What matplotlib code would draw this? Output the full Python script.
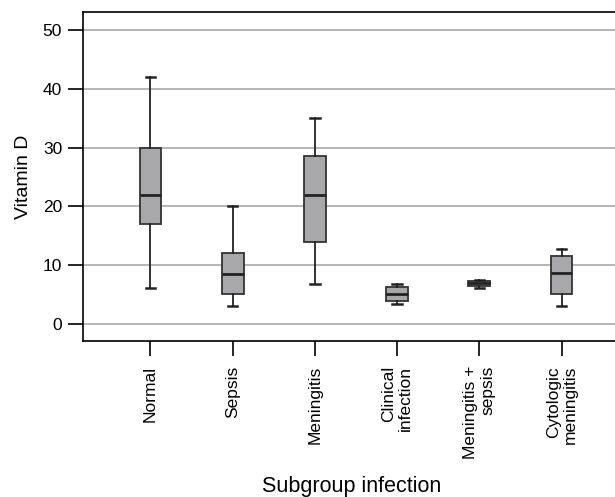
import matplotlib
matplotlib.use("Agg")
import matplotlib.pyplot as plt

# ── Data ─────────────────────────────────────────────────────────────────────
GROUPS = ["Normal", "Sepsis", "Meningitis", "Clinical\ninfection",
          "Meningitis +\nsepsis", "Cytologic\nmeningitis"]
WHISK_LO = [6.1, 3.0, 6.7, 3.3, 6.0, 3.0]
Q1       = [17.0, 5.0, 14.0, 3.8, 6.5, 5.0]
MEDIAN   = [22.0, 8.5, 22.0, 5.0, 6.9, 8.6]
Q3       = [30.0, 12.0, 28.6, 6.2, 7.2, 11.5]
WHISK_HI = [42.0, 20.0, 35.0, 6.7, 7.5, 12.8]
YTICKS   = [0, 10, 20, 30, 40, 50]

plt.rcParams["font.family"] = ["Liberation Sans", "DejaVu Sans"]

W, H = 615, 497
fig = plt.figure(figsize=(W / 100, H / 100), dpi=100)
ax = fig.add_axes([83 / W, 1 - 341 / H, (615 - 83) / W, (341 - 12) / H])

stats = []
for i, g in enumerate(GROUPS):
    stats.append(dict(label=g, whislo=WHISK_LO[i], q1=Q1[i], med=MEDIAN[i],
                      q3=Q3[i], whishi=WHISK_HI[i], fliers=[]))

ax.bxp(stats, positions=range(1, len(GROUPS) + 1), widths=0.265,
       patch_artist=True, showfliers=False,
       boxprops=dict(facecolor="#a8a8ab", edgecolor="#333333", linewidth=1.3),
       medianprops=dict(color="#222222", linewidth=2),
       whiskerprops=dict(color="#222222", linewidth=1.3),
       capprops=dict(color="#222222", linewidth=1.8),
       capwidths=0.115, zorder=3)

ax.set_ylim(-2.95, 53.1)
ax.set_xlim(0.18, 6.65)
ax.set_yticks(YTICKS)
ax.yaxis.grid(True, color="#b5b5b5", linewidth=1.4, zorder=0)
ax.set_axisbelow(True)

ax.set_xticks(range(1, len(GROUPS) + 1))
ax.set_xticklabels(GROUPS, rotation=90, fontsize=12.5, ha="center", va="top",
                   multialignment="right", linespacing=1.15)
ax.tick_params(axis="x", length=11, width=1.2, pad=7)
ax.tick_params(axis="y", length=11, width=1.2, labelsize=12.5, pad=4)

for s in ax.spines.values():
    s.set_linewidth(1.2)
ax.spines["right"].set_visible(False)

ax.set_ylabel("Vitamin D", fontsize=14, labelpad=8)
fig.text(352 / W, 1 - 492 / H, "Subgroup infection", fontsize=15.5,
         ha="center", va="baseline")

fig.savefig("out.png", dpi=100)
